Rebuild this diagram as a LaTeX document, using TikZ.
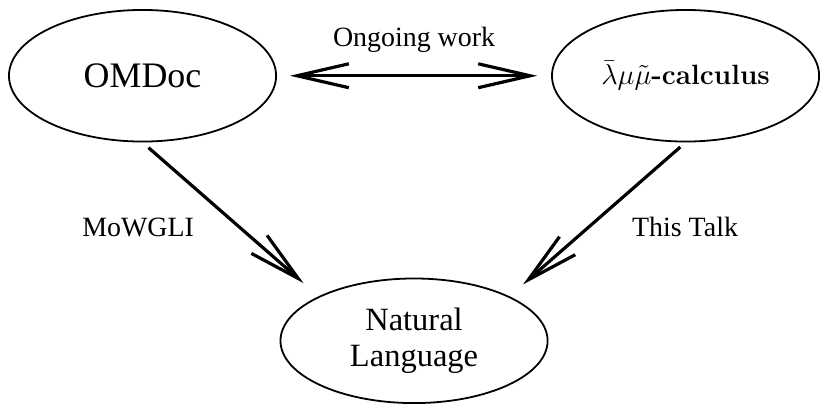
\documentclass[tikz,border=0pt]{standalone}
\usepackage{amsmath}
\usepackage{fontspec}
\setmainfont{Liberation Serif}
\newfontfamily\lmfont{Latin Modern Roman}
\usetikzlibrary{arrows.meta, positioning, shapes.geometric, calc}

\begin{document}
\begin{tikzpicture}[
    blob/.style={ellipse, draw, line width=0.9pt, minimum width=134pt, minimum height=66pt, align=center},
    tag/.style={font=\fontsize{14}{17}\selectfont, inner sep=0pt},
    link/.style={-{Straight Barb[length=26pt, width=12pt]}, line width=1.6pt},
    twoway/.style={{Straight Barb[length=26pt, width=12pt]}-{Straight Barb[length=26pt, width=12pt]}, line width=1.6pt}
]
    % Nodes
    \node[blob, font=\fontsize{18}{21}\selectfont] (omdoc) {OMDoc};
    \node[blob, right=137.5pt of omdoc, font=\fontsize{14}{17}\selectfont\lmfont] (lmm) {$\bar{\lambda}\mu\tilde{\mu}$\textbf{-calculus}};
    \coordinate (mid) at ($(omdoc)!0.5!(lmm)$);
    \node[blob, below=101.25pt of mid, minimum height=62.5pt, font=\fontsize{16.3}{18}\selectfont] (natlang) {Natural\\Language};

    \useasboundingbox (-71.5pt,38pt) rectangle (338.5pt,-169pt);

    % Arrows
    \draw[twoway, shorten <=6.5pt, shorten >=7pt] (omdoc.east) -- (lmm.west)
        node[tag, midway, above=10.7pt] {Ongoing work};
    \draw[link, shorten <=4pt, shorten >=10pt] (omdoc.south) -- (natlang.155)
        node[tag, pos=0.55, left=22pt] {MoWGLI};
    \draw[link, shorten <=3.5pt, shorten >=9pt] (lmm.south) -- (natlang.25)
        node[tag, pos=0.55, right=21pt] {This Talk};
\end{tikzpicture}
\end{document}
